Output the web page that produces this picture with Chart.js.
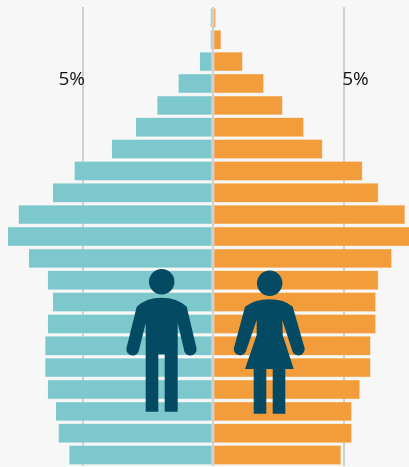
<!DOCTYPE html>
<html>
<head>
<meta charset="utf-8">
<style>
  html, body { margin: 0; padding: 0; background: #f6f7f6; }
  #wrap { position: relative; width: 409px; height: 467px; }
</style>
<script src="https://cdn.jsdelivr.net/npm/chart.js@4"></script>
</head>
<body>
<div id="wrap"><canvas id="pyramid"></canvas></div>
<script>
// age bands, oldest at the top (no labels shown in the picture)
const ageBands = ['100+', '95', '90', '85', '80', '75', '70', '65', '60', '55', '50',
                  '45', '40', '35', '30', '25', '20', '15', '10', '5', '0'];
// share of population in %, men are negative so they go left
const men = [-0.1, -0.1, -0.51, -1.33, -2.14, -2.96, -3.88, -5.31, -6.13, -7.45, -7.86,
             -7.05, -6.33, -6.13, -6.33, -6.43, -6.43, -6.33, -6.02, -5.92, -5.51];
const women = [0.1, 0.31, 1.13, 1.94, 2.66, 3.47, 4.19, 5.72, 6.33, 7.35, 7.6,
               6.84, 6.33, 6.23, 6.23, 6.03, 6.03, 5.62, 5.31, 5.31, 4.9];
const gridTicks = [-5, 0, 5];
const tickText = '5%';

const ctx = document.getElementById('pyramid').getContext('2d');

// the two 5% labels sit beside the gridlines, inside the plot
const percentLabels = {
    id: 'percentLabels',
    afterDatasetsDraw(chart) {
        const c = chart.ctx;
        const x = chart.scales.x;
        c.save();
        c.font = '19px "Open Sans"';
        c.fillStyle = '#111';
        c.textBaseline = 'middle';
        c.textAlign = 'right';
        c.fillText(tickText, x.getPixelForValue(-5) + 2.5, 80);
        c.textAlign = 'left';
        c.fillText(tickText, x.getPixelForValue(5) - 1.5, 80);
        c.restore();
    }
};

// man and woman pictograms on top of the bars
const manIcon = new Path2D('M161.7 269a12.700 12.700 0 1 1 0 25.400a12.700 12.700 0 1 1 0-25.400z' +
    'M136.700 306.700Q146 297.700 161.700 297.700Q177 297.700 186.700 306.700L196 346A6 6 0 0 1 184.500 352' +
    'L177.700 323V411.700H164.700V354.300H158.300V411.700H145.700V323L138.500 352A6 6 0 0 1 127 346Z');
const womanIcon = new Path2D('M269.700 270.600a12.700 12.700 0 1 1 0 25.400a12.700 12.700 0 1 1 0-25.400z' +
    'M245 306.700Q255 299.300 269.700 299.300Q284 299.300 292.700 306.700L304 346A6 6 0 0 1 292.700 352' +
    'L282.300 320L282.700 335L293.700 369H285.300V413.700H272.700V369H266.300V413.700H253.700V369H245' +
    'L256.700 335L256.700 320L245.700 352A6 6 0 0 1 234.500 346Z');
const figures = {
    id: 'figures',
    afterDatasetsDraw(chart) {
        const c = chart.ctx;
        c.save();
        c.fillStyle = '#034a62';
        c.fill(manIcon);
        c.fill(womanIcon);
        c.restore();
    }
};

new Chart(ctx, {
    type: 'bar',
    data: {
        labels: ageBands,
        datasets: [
            {
                label: 'Men',
                data: men,
                backgroundColor: '#7cc8cd',
                borderColor: '#b5dfe1',
                borderWidth: 0.6,
                borderSkipped: 'right',
                barPercentage: 0.89,
                categoryPercentage: 1
            },
            {
                label: 'Women',
                data: women,
                backgroundColor: '#f29c3b',
                borderColor: '#f7c48b',
                borderWidth: 0.6,
                borderSkipped: 'left',
                barPercentage: 0.89,
                categoryPercentage: 1
            }
        ]
    },
    options: {
        indexAxis: 'y',
        responsive: true,
        maintainAspectRatio: false,
        animation: false,
        layout: { padding: { top: 7, bottom: 1 } },
        plugins: {
            legend: { display: false },
            tooltip: { enabled: false }
        },
        scales: {
            x: {
                type: 'linear',
                min: -8.16,
                max: 7.5,
                afterBuildTicks(axis) {
                    axis.ticks = gridTicks.map(v => ({ value: v }));
                },
                ticks: { display: false },
                border: { display: false },
                grid: { color: '#cfd0cf', lineWidth: 2, drawTicks: false }
            },
            y: {
                display: false,
                stacked: true
            }
        }
    },
    plugins: [percentLabels, figures]
});
</script>
</body>
</html>
